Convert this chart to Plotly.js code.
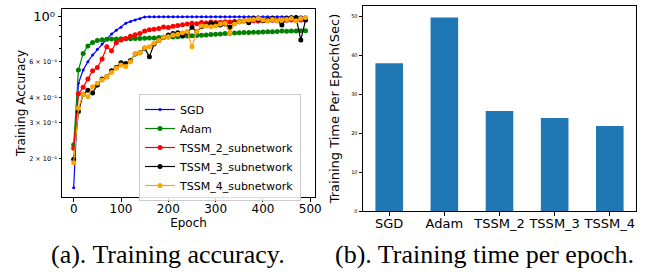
<!DOCTYPE html>
<html>
<head>
<meta charset="utf-8">
<script src="https://cdn.plot.ly/plotly-3.0.1.min.js"></script>
<style>html,body{margin:0;padding:0;background:#fff;}#chart{width:645px;height:272px;}</style>
</head>
<body>
<div id="chart"></div>
<script>
// ---- data ----
var epochs = [0,10,20,30,40,50,60,70,80,90,100,110,120,130,140,150,160,170,180,190,200,210,220,230,240,250,260,270,280,290,300,310,320,330,340,350,360,370,380,390,400,410,420,430,440,450,460,470,480,490];
var sgdAcc = [0.143,0.469,0.545,0.600,0.647,0.690,0.733,0.775,0.822,0.858,0.886,0.927,0.948,0.963,0.978,0.997,0.998,0.998,0.998,0.998,0.999,0.999,0.999,0.999,0.999,0.999,0.999,0.999,0.999,0.999,0.999,0.999,0.999,0.999,0.999,0.999,0.999,0.999,0.999,0.999,0.999,0.999,0.999,0.999,0.999,0.999,0.999,0.999,0.999,0.999];
var adamAcc = [0.233,0.545,0.659,0.717,0.745,0.762,0.770,0.774,0.776,0.777,0.778,0.778,0.779,0.780,0.781,0.782,0.784,0.786,0.789,0.791,0.793,0.795,0.797,0.800,0.803,0.806,0.808,0.811,0.813,0.816,0.818,0.821,0.825,0.828,0.832,0.834,0.835,0.836,0.838,0.839,0.840,0.842,0.843,0.845,0.849,0.848,0.850,0.851,0.852,0.853];
var tssm2Acc = [0.224,0.416,0.448,0.492,0.541,0.562,0.618,0.711,0.680,0.744,0.767,0.780,0.800,0.815,0.825,0.850,0.862,0.868,0.875,0.889,0.885,0.897,0.905,0.912,0.920,0.928,0.922,0.935,0.930,0.941,0.936,0.940,0.945,0.942,0.948,0.946,0.952,0.950,0.956,0.952,0.958,0.955,0.960,0.958,0.962,0.960,0.963,0.965,0.962,0.966];
var tssm3Acc = [0.198,0.340,0.414,0.434,0.420,0.460,0.492,0.506,0.541,0.562,0.593,0.588,0.607,0.654,0.664,0.698,0.635,0.733,0.762,0.791,0.812,0.827,0.834,0.806,0.834,0.886,0.844,0.892,0.910,0.927,0.920,0.910,0.920,0.886,0.934,0.945,0.956,0.934,0.981,0.970,0.956,0.970,0.981,0.956,0.910,0.981,0.989,0.992,0.767,0.963];
var tssm4Acc = [0.190,0.353,0.414,0.403,0.451,0.469,0.487,0.506,0.530,0.556,0.577,0.567,0.600,0.659,0.664,0.703,0.711,0.739,0.762,0.791,0.797,0.812,0.818,0.834,0.844,0.711,0.844,0.899,0.899,0.892,0.899,0.920,0.927,0.834,0.920,0.945,0.956,0.963,0.970,0.981,0.963,0.956,0.970,0.956,0.963,0.970,0.981,0.956,0.981,0.992];

var methods = ["SGD","Adam","TSSM_2","TSSM_3","TSSM_4"];
var timePerEpoch = [38.0, 49.8, 25.7, 23.9, 21.9];

var accMinorTickVals = [0.2,0.3,0.4,0.6];
var accMinorTickText = ["2 × 10⁻¹","3 × 10⁻¹","4 × 10⁻¹","6 × 10⁻¹"];
var accUnlabeledVals = [0.5,0.7,0.8,0.9];
var accMajorTickVals = [1.0];
var accMajorTickText = ["10⁰"];
var epochTicks = [0,100,200,300,400,500];
var timeTicks = [0,10,20,30,40,50];

// ---- traces ----
function mk(name, y, color, sym, size){
  return {x: epochs, y: y, name: name, type: 'scatter', mode: 'lines+markers',
    line: {color: color, width: 1.2}, marker: {color: color, size: size, symbol: sym},
    xaxis: 'x', yaxis: 'y'};
}
var traces = [
  mk('SGD', sgdAcc, '#0000ff', 'circle', 3),
  mk('Adam', adamAcc, '#008000', 'circle', 5),
  mk('TSSM_2_subnetwork', tssm2Acc, '#ff0000', 'circle', 5),
  mk('TSSM_3_subnetwork', tssm3Acc, '#000000', 'circle', 5),
  mk('TSSM_4_subnetwork', tssm4Acc, '#ffa500', 'circle', 5),
  {x: methods, y: timePerEpoch, type: 'bar', width: 0.5, marker: {color: '#1f77b4'},
   xaxis: 'x2', yaxis: 'y2', showlegend: false}
];

var axBase = {showline: true, mirror: true, linecolor: '#000', linewidth: 1, showgrid: false, zeroline: false,
  ticks: 'outside', ticklen: 3.5, tickwidth: 1, tickcolor: '#000', automargin: false};

var yDomain = [75/272, 263/272];
var yRange = [-0.890, 0.038];

var layout = {
  width: 645, height: 272,
  margin: {l: 0, r: 0, t: 0, b: 0},
  paper_bgcolor: '#fff', plot_bgcolor: '#fff',
  font: {family: 'DejaVu Sans', color: '#000', size: 12},
  showlegend: true,
  legend: {x: 139/645, y: (272-94)/272, xanchor: 'left', yanchor: 'top',
    bgcolor: 'rgba(255,255,255,0.85)', bordercolor: '#cccccc', borderwidth: 1,
    font: {size: 11, family: 'DejaVu Sans'}, tracegroupgap: 0, itemwidth: 30},
  xaxis: Object.assign({}, axBase, {domain: [62/645, 315/645], range: [-24.7, 510],
    tickvals: epochTicks, tickfont: {size: 12}, ticklabelstandoff: -3,
    title: {text: 'Epoch', font: {size: 12}, standoff: 1}}),
  yaxis: Object.assign({}, axBase, {domain: yDomain, type: 'log', range: yRange,
    tickvals: accMinorTickVals, ticktext: accMinorTickText, tickfont: {size: 6.5}, ticklen: 2.5,
    minor: {tickvals: accUnlabeledVals, ticks: 'outside', ticklen: 2.5, tickcolor: '#000', tickwidth: 1, showgrid: false},
    title: {text: 'Training Accuracy', font: {size: 12}, standoff: 0}}),
  yaxis3: {domain: yDomain, type: 'log', range: yRange, anchor: 'x', overlaying: 'y', side: 'left',
    showline: false, showgrid: false, zeroline: false, ticks: 'outside', ticklen: 3.5, tickwidth: 1, tickcolor: '#000',
    tickvals: accMajorTickVals, ticktext: accMajorTickText, tickfont: {size: 13}, automargin: false},
  xaxis2: Object.assign({}, axBase, {domain: [363/645, 636/645], anchor: 'y2', type: 'category',
    range: [-0.475, 4.475], tickfont: {size: 13}, ticklabelstandoff: -3}),
  yaxis2: Object.assign({}, axBase, {domain: [61/272, 266/272], anchor: 'x2', range: [0, 52.75],
    tickvals: timeTicks, tickfont: {size: 5},
    title: {text: 'Training Time Per Epoch(Sec)', font: {size: 13}, standoff: 8}}),
  annotations: [
    {text: '(a). Training accuracy.', x: 168/645, y: 18/272, xref: 'paper', yref: 'paper',
     xanchor: 'center', yanchor: 'middle', showarrow: false,
     font: {family: 'Liberation Serif', size: 26, color: '#000'}},
    {text: '(b). Training time per epoch.', x: 484/645, y: 18/272, xref: 'paper', yref: 'paper',
     xanchor: 'center', yanchor: 'middle', showarrow: false,
     font: {family: 'Liberation Serif', size: 26, color: '#000'}}
  ]
};

// dummy invisible trace so that yaxis3 is drawn
traces.push({x: [epochs[0]], y: [adamAcc[0]], xaxis: 'x', yaxis: 'y3', type: 'scatter', mode: 'markers',
  marker: {opacity: 0}, showlegend: false, hoverinfo: 'skip'});

Plotly.newPlot('chart', traces, layout, {displayModeBar: false, staticPlot: true});
</script>
</body>
</html>
